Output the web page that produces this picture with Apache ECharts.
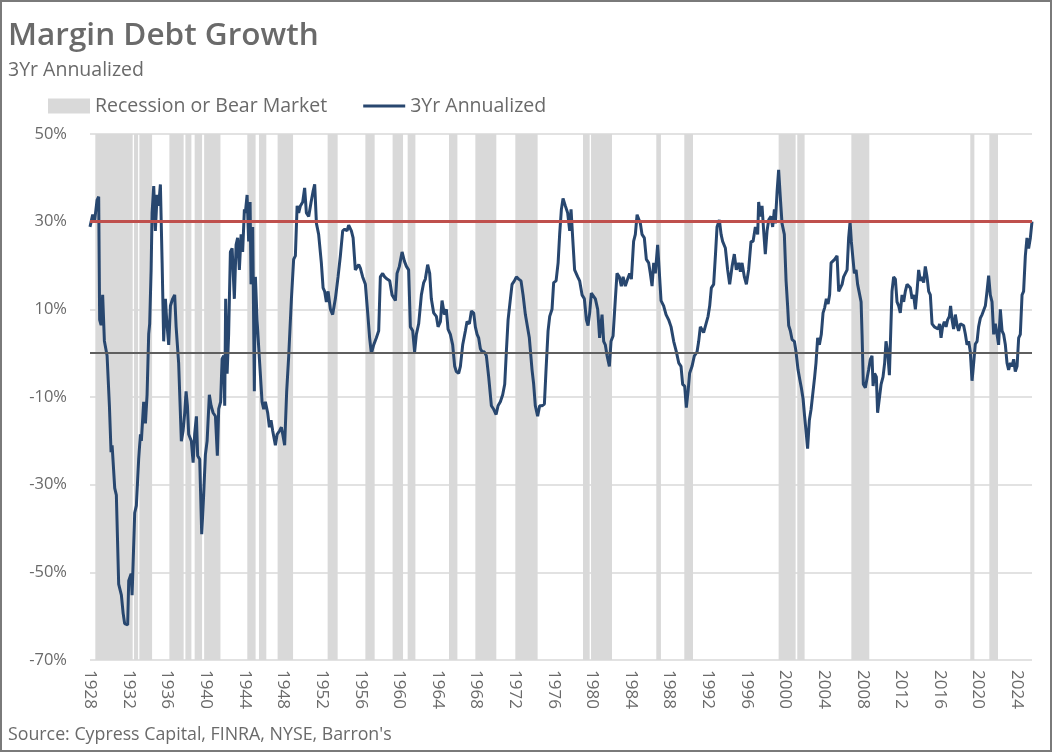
<!DOCTYPE html>
<html>
<head>
<meta charset="utf-8">
<title>Margin Debt Growth</title>
<script src="https://cdn.jsdelivr.net/npm/echarts@6/dist/echarts.min.js"></script>
<style>
  html, body { margin: 0; padding: 0; background: #fff; }
  #chart { width: 1052px; height: 752px; }
</style>
</head>
<body>
<div id="chart"></div>
<script>
// 3yr annualized margin debt growth (%)
const years = [
  1928.92, 1929.20, 1929.41, 1929.65, 1929.82, 1929.92, 1930.07, 1930.23, 1930.41, 1930.69,
  1930.93, 1931.10, 1931.21, 1931.48, 1931.65, 1931.89, 1932.17, 1932.35, 1932.51, 1932.82,
  1932.93, 1933.18, 1933.28, 1933.55, 1933.72, 1933.96, 1934.14, 1934.24, 1934.48, 1934.66,
  1934.83, 1935.00, 1935.10, 1935.25, 1935.35, 1935.52, 1935.69, 1935.87, 1936.03, 1936.21,
  1936.39, 1936.55, 1936.73, 1936.86, 1937.07, 1937.25, 1937.48, 1937.69, 1937.84, 1938.10,
  1938.38, 1938.56, 1938.73, 1938.87, 1939.01, 1939.14, 1939.42, 1939.60, 1939.76, 1939.94,
  1940.07, 1940.28, 1940.49, 1940.69, 1940.87, 1941.05, 1941.28, 1941.46, 1941.67, 1941.91,
  1942.11, 1942.25, 1942.45, 1942.60, 1942.77, 1942.87, 1942.97, 1943.12, 1943.28, 1943.46,
  1943.64, 1943.87, 1944.05, 1944.21, 1944.39, 1944.57, 1944.73, 1944.91, 1945.01, 1945.19,
  1945.35, 1945.50, 1945.60, 1945.77, 1945.94, 1946.05, 1946.22, 1946.49, 1946.74, 1946.91,
  1947.08, 1947.32, 1947.50, 1947.67, 1947.84, 1948.12, 1948.30, 1948.56, 1948.74, 1948.88,
  1949.08, 1949.29, 1949.50, 1949.78, 1950.01, 1950.19, 1950.37, 1950.53, 1950.71, 1950.95,
  1951.15, 1951.33, 1951.57, 1951.82, 1952.02, 1952.19, 1952.37, 1952.60, 1952.88, 1953.06,
  1953.22, 1953.40, 1953.58, 1953.82, 1954.05, 1954.33, 1954.61, 1954.85, 1955.09, 1955.30,
  1955.54, 1955.71, 1955.99, 1956.17, 1956.40, 1956.75, 1956.92, 1957.16, 1957.44, 1957.68,
  1957.88, 1958.06, 1958.30, 1958.58, 1958.82, 1958.99, 1959.23, 1959.44, 1959.69, 1959.96,
  1960.20, 1960.55, 1960.72, 1960.96, 1961.24, 1961.48, 1961.69, 1961.92, 1962.10, 1962.34,
  1962.54, 1962.72, 1962.96, 1963.24, 1963.48, 1963.65, 1963.89, 1964.10, 1964.27, 1964.51,
  1964.79, 1964.97, 1965.21, 1965.38, 1965.62, 1965.83, 1966.00, 1966.24, 1966.48, 1966.69,
  1966.86, 1967.10, 1967.28, 1967.52, 1967.80, 1967.97, 1968.21, 1968.42, 1968.66, 1968.83,
  1969.01, 1969.17, 1969.35, 1969.53, 1969.76, 1969.97, 1970.21, 1970.49, 1970.73, 1970.98,
  1971.18, 1971.42, 1971.66, 1971.87, 1972.04, 1972.22, 1972.46, 1972.63, 1972.87, 1973.08,
  1973.32, 1973.56, 1973.77, 1974.01, 1974.19, 1974.42, 1974.70, 1974.87, 1975.04, 1975.28,
  1975.49, 1975.74, 1975.98, 1976.15, 1976.36, 1976.53, 1976.77, 1976.94, 1977.19, 1977.40,
  1977.56, 1977.74, 1977.91, 1978.15, 1978.39, 1978.60, 1978.74, 1978.91, 1979.11, 1979.26,
  1979.43, 1979.63, 1979.88, 1980.12, 1980.33, 1980.50, 1980.67, 1980.84, 1981.02, 1981.26,
  1981.50, 1981.70, 1981.95, 1982.12, 1982.29, 1982.47, 1982.71, 1982.88, 1983.09, 1983.33,
  1983.50, 1983.74, 1983.95, 1984.13, 1984.36, 1984.60, 1984.81, 1984.99, 1985.22, 1985.40,
  1985.58, 1985.74, 1985.92, 1986.09, 1986.33, 1986.54, 1986.78, 1986.95, 1987.13, 1987.30,
  1987.47, 1987.71, 1987.89, 1988.06, 1988.33, 1988.58, 1988.85, 1989.10, 1989.37, 1989.65,
  1989.89, 1990.13, 1990.30, 1990.51, 1990.68, 1990.86, 1991.02, 1991.27, 1991.51, 1991.79,
  1991.96, 1992.13, 1992.31, 1992.47, 1992.65, 1992.93, 1993.10, 1993.27, 1993.51, 1993.69,
  1993.86, 1994.10, 1994.28, 1994.44, 1994.72, 1994.96, 1995.17, 1995.42, 1995.65, 1995.86,
  1996.10, 1996.28, 1996.45, 1996.69, 1996.90, 1997.13, 1997.38, 1997.59, 1997.83, 1998.07,
  1998.17, 1998.35, 1998.52, 1998.69, 1998.86, 1999.04, 1999.21, 1999.45, 1999.62, 1999.80,
  1999.90, 2000.08, 2000.24, 2000.42, 2000.59, 2000.83, 2001.01, 2001.17, 2001.28, 2001.45,
  2001.63, 2001.87, 2002.04, 2002.25, 2002.42, 2002.59, 2002.77, 2002.93, 2003.11, 2003.24,
  2003.42, 2003.60, 2003.80, 2003.97, 2004.11, 2004.28, 2004.46, 2004.66, 2004.84, 2005.01,
  2005.18, 2005.36, 2005.52, 2005.67, 2005.83, 2006.04, 2006.29, 2006.46, 2006.63, 2006.81,
  2006.97, 2007.15, 2007.33, 2007.49, 2007.64, 2007.77, 2007.91, 2008.08, 2008.26, 2008.42,
  2008.60, 2008.78, 2008.88, 2009.01, 2009.22, 2009.40, 2009.56, 2009.74, 2009.91, 2010.02,
  2010.18, 2010.36, 2010.49, 2010.67, 2010.85, 2011.05, 2011.22, 2011.36, 2011.53, 2011.71,
  2011.98, 2012.15, 2012.33, 2012.50, 2012.67, 2012.84, 2013.02, 2013.19, 2013.36, 2013.54,
  2013.70, 2013.88, 2014.06, 2014.22, 2014.40, 2014.57, 2014.74, 2014.92, 2015.09, 2015.26,
  2015.43, 2015.61, 2015.78, 2015.95, 2016.13, 2016.37, 2016.57, 2016.75, 2016.91, 2017.06,
  2017.22, 2017.40, 2017.58, 2017.74, 2017.92, 2018.05, 2018.20, 2018.36, 2018.54, 2018.72,
  2018.88, 2019.06, 2019.23, 2019.40, 2019.58, 2019.75, 2019.92, 2020.09, 2020.27, 2020.44,
  2020.61, 2020.79, 2020.95, 2021.13, 2021.31, 2021.47, 2021.65, 2021.82, 2021.99, 2022.16,
  2022.34, 2022.51, 2022.68, 2022.86, 2023.02, 2023.20, 2023.38, 2023.54, 2023.72, 2023.89,
  2024.06, 2024.24, 2024.41, 2024.58, 2024.75, 2024.93, 2025.10, 2025.27, 2025.45, 2025.61,
  2025.79, 2025.96, 2026.13, 2026.31, 2026.48
]
const growth = [
  28.8, 31.6, 30.4, 34.9, 35.7, 7.6, 6.4, 13.3, 2.8, -0.6,
  -12, -22.6, -21, -30.8, -32.4, -52.7, -55.2, -59.3, -61.7, -62,
  -51.9, -50.3, -55.2, -36.4, -34.8, -24.2, -18.5, -20, -11.1, -16,
  -9.5, 4.4, 6.7, 19, 32, 38.1, 27.9, 36.1, 33.6, 38.5,
  20.6, 2.7, 12.4, 7.6, 1.9, 10.8, 12.4, 13.3, 6, -2.2,
  -20.1, -17.7, -13.6, -8.7, -12, -18.5, -20.1, -25, -18.5, -14.4,
  -23.4, -24.2, -41.3, -32.4, -23.2, -20, -9.5, -12, -13.6, -14.4,
  -23.4, -12.7, -11.1, -1.3, -0.6, -12, 12.4, -4.7, 4.4, 23.1,
  23.9, 12.4, 24.7, 26.3, 19, 27.1, 23.1, 32.8, 32, 36.1,
  25.5, 34.5, 15.7, 28.8, -8.7, 17.4, 7.6, -2.2, -11.1, -12.8,
  -11.1, -13.6, -16.9, -15.3, -17.7, -21, -18.5, -17.7, -16.9, -18.5,
  -21, -8.7, -0.6, 12.4, 21.4, 22.2, 33.6, 32, 33.6, 34.5,
  37.7, 32, 31.2, 34.5, 36.9, 38.5, 29.6, 27.1, 20.6, 14.9,
  14.1, 11.7, 14.1, 10, 8.8, 12.4, 17.4, 22.2, 27.9, 28.3,
  27.9, 29.2, 27.9, 26.3, 19, 20.2, 19.4, 17.4, 15.7, 9.2,
  3.5, -0.1, 1.9, 3.5, 5.1, 17.4, 18.2, 17.4, 16.9, 16.5,
  13.3, 12, 18.2, 19.8, 23.1, 21, 19.8, 19, 6, 5.1,
  0.3, 4.3, 6.7, 13.3, 16.1, 16.9, 20.2, 18.2, 12.4, 9.2,
  8.4, 6, 7.2, 12, 8.8, 10, 5.5, 4.3, 1.9, -3,
  -4.2, -4.6, -3, 1.9, 5.1, 7.2, 6.7, 9.6, 9.2, 6,
  4.3, 3.5, 1, 0.3, 0.3, -0.6, -5.4, -12, -12.8, -14,
  -12, -11.1, -9.5, -7.1, 0.3, 7.6, 12.4, 15.7, 16.5, 17.4,
  16.9, 16.5, 13.3, 8.8, 8.4, 3.5, -3.8, -7.1, -12, -14.4,
  -12, -12, -11.6, -3.8, 5.1, 8.4, 10, 16.1, 16.5, 20.6,
  27.1, 32.8, 35.3, 33.6, 32, 27.9, 32.8, 26.3, 19, 19,
  17.4, 16.5, 13.3, 12.4, 7.6, 6.3, 9.2, 13.7, 14.1, 12.4,
  10, 3.5, 8.8, 2.7, 1.9, -0.6, -3, 2.7, 3.9, 12.4,
  18.2, 17.4, 15.3, 17.4, 15.3, 16.9, 18.2, 16.9, 25.5, 27.1,
  31.6, 32, 29.6, 27.1, 26.3, 21.4, 20.6, 18.2, 15.3, 20.6,
  18.2, 24.7, 18.2, 12, 10.8, 8.8, 7.6, 6, 2.7, 0.3,
  -2.2, -3, -7.1, -7.5, -12.4, -8.7, -4.6, -3, -0.6, 0.3,
  2.7, 6, 6.3, 4.7, 5.1, 8.4, 10.8, 14.9, 15.7, 22.2,
  28.8, 30.4, 27.1, 25.5, 24, 19, 15.7, 19.8, 22.6, 19,
  20.6, 18.6, 20.6, 17.4, 15.7, 19, 25.5, 25.5, 28.8, 27.1,
  34.5, 31.2, 33.6, 27.9, 22.6, 27.9, 30.4, 31.2, 28.8, 32.8,
  29.6, 36.9, 41.8, 35.3, 29.6, 27.1, 16.5, 10.8, 6.3, 5.1,
  3.1, 2.7, 0.3, -3.8, -5.9, -7.9, -10.4, -14.4, -18.5, -21.8,
  -15.3, -12.8, -13.2, -5.4, -2.2, 3.5, 1.9, 4.3, 9.2, 10.4,
  12.4, 11.2, 13.3, 20.6, 21, 21.4, 22.2, 14.1, 13.7, 15.7,
  17.4, 18.2, 19, 26.3, 30, 25.5, 22.2, 18.2, 19, 15.7,
  15.3, 11.7, 4.3, -7.1, -7.9, -7.9, -3.8, -1.4, -0.6, -7.5,
  -4.6, -5.4, -13.6, -13.6, -7.1, -5.4, -2.2, 2.7, 0.3, -5,
  14.1, 17.4, 16.9, 11.7, 10.8, 9.2, 13.3, 11.7, 14.1, 15.7,
  15.3, 14.9, 12.4, 13.3, 10, 14.1, 19, 16.5, 17.4, 16.1,
  19.8, 17.4, 14.1, 13.3, 6.7, 6, 6.3, 5.5, 6.7, 3.5,
  6, 7.2, 6, 7.6, 8.4, 10.8, 7.6, 5.5, 8.8, 6.3,
  5.1, 6.7, 6.7, 6.3, 4.3, 1.9, 2.7, 0.3, -6.3, -2.2,
  2.1, 2.7, 6, 8, 8.8, 9.2, 10.8, 14.1, 17.7, 13.3,
  11.7, 4.3, 6.7, 4.3, 1.9, 10, 5.1, 4.3, 1.9, -2.2,
  -3.8, -2.2, -3, -1.4, -4.2, -3, 3.5, 4.3, 13.3, 14.1,
  22.2, 26.3, 23.9, 26.3, 30
]

// recession or bear market periods (fractional years)
const bandStarts = [1929.47, 1933.48, 1934.03, 1937.14, 1938.80, 1939.76, 1940.74, 1945.21, 1946.42, 1948.35,
  1953.53, 1957.44, 1960.26, 1961.82, 1966.10, 1968.83, 1972.97, 1979.98, 1980.81, 1987.57,
  1990.47, 2000.24, 2002.17, 2007.77, 2020.09, 2022.06]
const bandEnds = [1933.34, 1933.90, 1935.35, 1938.62, 1939.42, 1940.53, 1942.43, 1946.07, 1947.18, 1949.95,
  1954.57, 1958.40, 1961.34, 1962.62, 1966.97, 1971.00, 1975.28, 1980.67, 1982.98, 1988.05,
  1991.37, 2002.00, 2002.93, 2009.63, 2020.51, 2022.96]

const threshold = 30
const axisStart = 1928.92
const axisEnd = 2026.48

const font = '"Open Sans", "Noto Sans", sans-serif'
const grey = '#6a6a6a'
const navy = '#28476f'

const chart = echarts.init(document.getElementById('chart'))

chart.setOption({
  animation: false,
  textStyle: { fontFamily: font },
  title: [
    {
      text: 'Margin Debt Growth',
      subtext: '3Yr Annualized',
      left: 3,
      top: 15,
      itemGap: 8,
      textStyle: { fontSize: 31.5, fontWeight: 600, color: grey, fontFamily: font },
      subtextStyle: { fontSize: 19.5, color: grey, fontFamily: font }
    },
    {
      text: "Source: Cypress Capital, FINRA, NYSE, Barron's",
      left: 3,
      bottom: 3,
      textStyle: { fontSize: 17.8, fontWeight: 'normal', color: grey, fontFamily: font }
    }
  ],
  legend: {
    left: 43,
    top: 91,
    itemWidth: 42,
    itemHeight: 15,
    itemGap: 36,
    textStyle: { fontSize: 19.5, color: grey, fontFamily: font },
    data: [
      { name: 'Recession or Bear Market', icon: 'rect', itemStyle: { color: '#d9d9d9' } },
      { name: '3Yr Annualized', icon: 'path://M0,0H42V3H0Z', itemStyle: { color: navy, borderWidth: 0 } }
    ]
  },
  grid: { left: 90, right: 20, top: 134, bottom: 92, containLabel: false },
  xAxis: {
    type: 'value',
    min: axisStart,
    max: axisEnd,
    interval: 4,
    axisLine: { show: false },
    axisTick: { show: false },
    splitLine: { show: false },
    axisLabel: {
      rotate: -90,
      margin: 10,
      fontSize: 17,
      color: grey,
      showMaxLabel: false,
      formatter: v => String(Math.floor(v + 1e-6))
    }
  },
  yAxis: {
    type: 'value',
    min: -70,
    max: 50,
    interval: 20,
    axisLine: { show: false },
    axisTick: { show: false },
    axisLabel: { formatter: '{value}%', fontSize: 16.5, color: grey, margin: 23 },
    splitLine: { lineStyle: { color: '#d9d9d9', width: 1.5 } }
  },
  series: [
    {
      name: 'Recession or Bear Market',
      type: 'line',
      data: [],
      z: 1,
      markArea: {
        silent: true,
        itemStyle: { color: '#d9d9d9' },
        data: bandStarts.map((s, i) => [{ xAxis: s }, { xAxis: bandEnds[i] }])
      }
    },
    {
      name: 'zero',
      type: 'line',
      data: [],
      z: 2,
      markLine: {
        silent: true,
        symbol: 'none',
        label: { show: false },
        lineStyle: { color: '#5f5f5f', width: 2, type: 'solid' },
        data: [{ yAxis: 0 }]
      }
    },
    {
      name: '3Yr Annualized',
      type: 'line',
      data: years.map((y, i) => [y, growth[i]]),
      symbol: 'none',
      z: 3,
      lineStyle: { color: navy, width: 3 },
      itemStyle: { color: navy }
    },
    {
      name: 'threshold',
      type: 'line',
      data: [],
      z: 4,
      markLine: {
        silent: true,
        symbol: 'none',
        label: { show: false },
        lineStyle: { color: '#bf504d', width: 3, type: 'solid' },
        data: [{ yAxis: threshold }]
      }
    }
  ],
  graphic: [
    {
      type: 'rect',
      shape: { x: 1, y: 1, width: 1050, height: 750 },
      style: { fill: 'none', stroke: '#7a7a7a', lineWidth: 2 },
      silent: true,
      z: 10
    }
  ]
})

window.addEventListener('resize', () => {
  chart.resize()
})
</script>
</body>
</html>
